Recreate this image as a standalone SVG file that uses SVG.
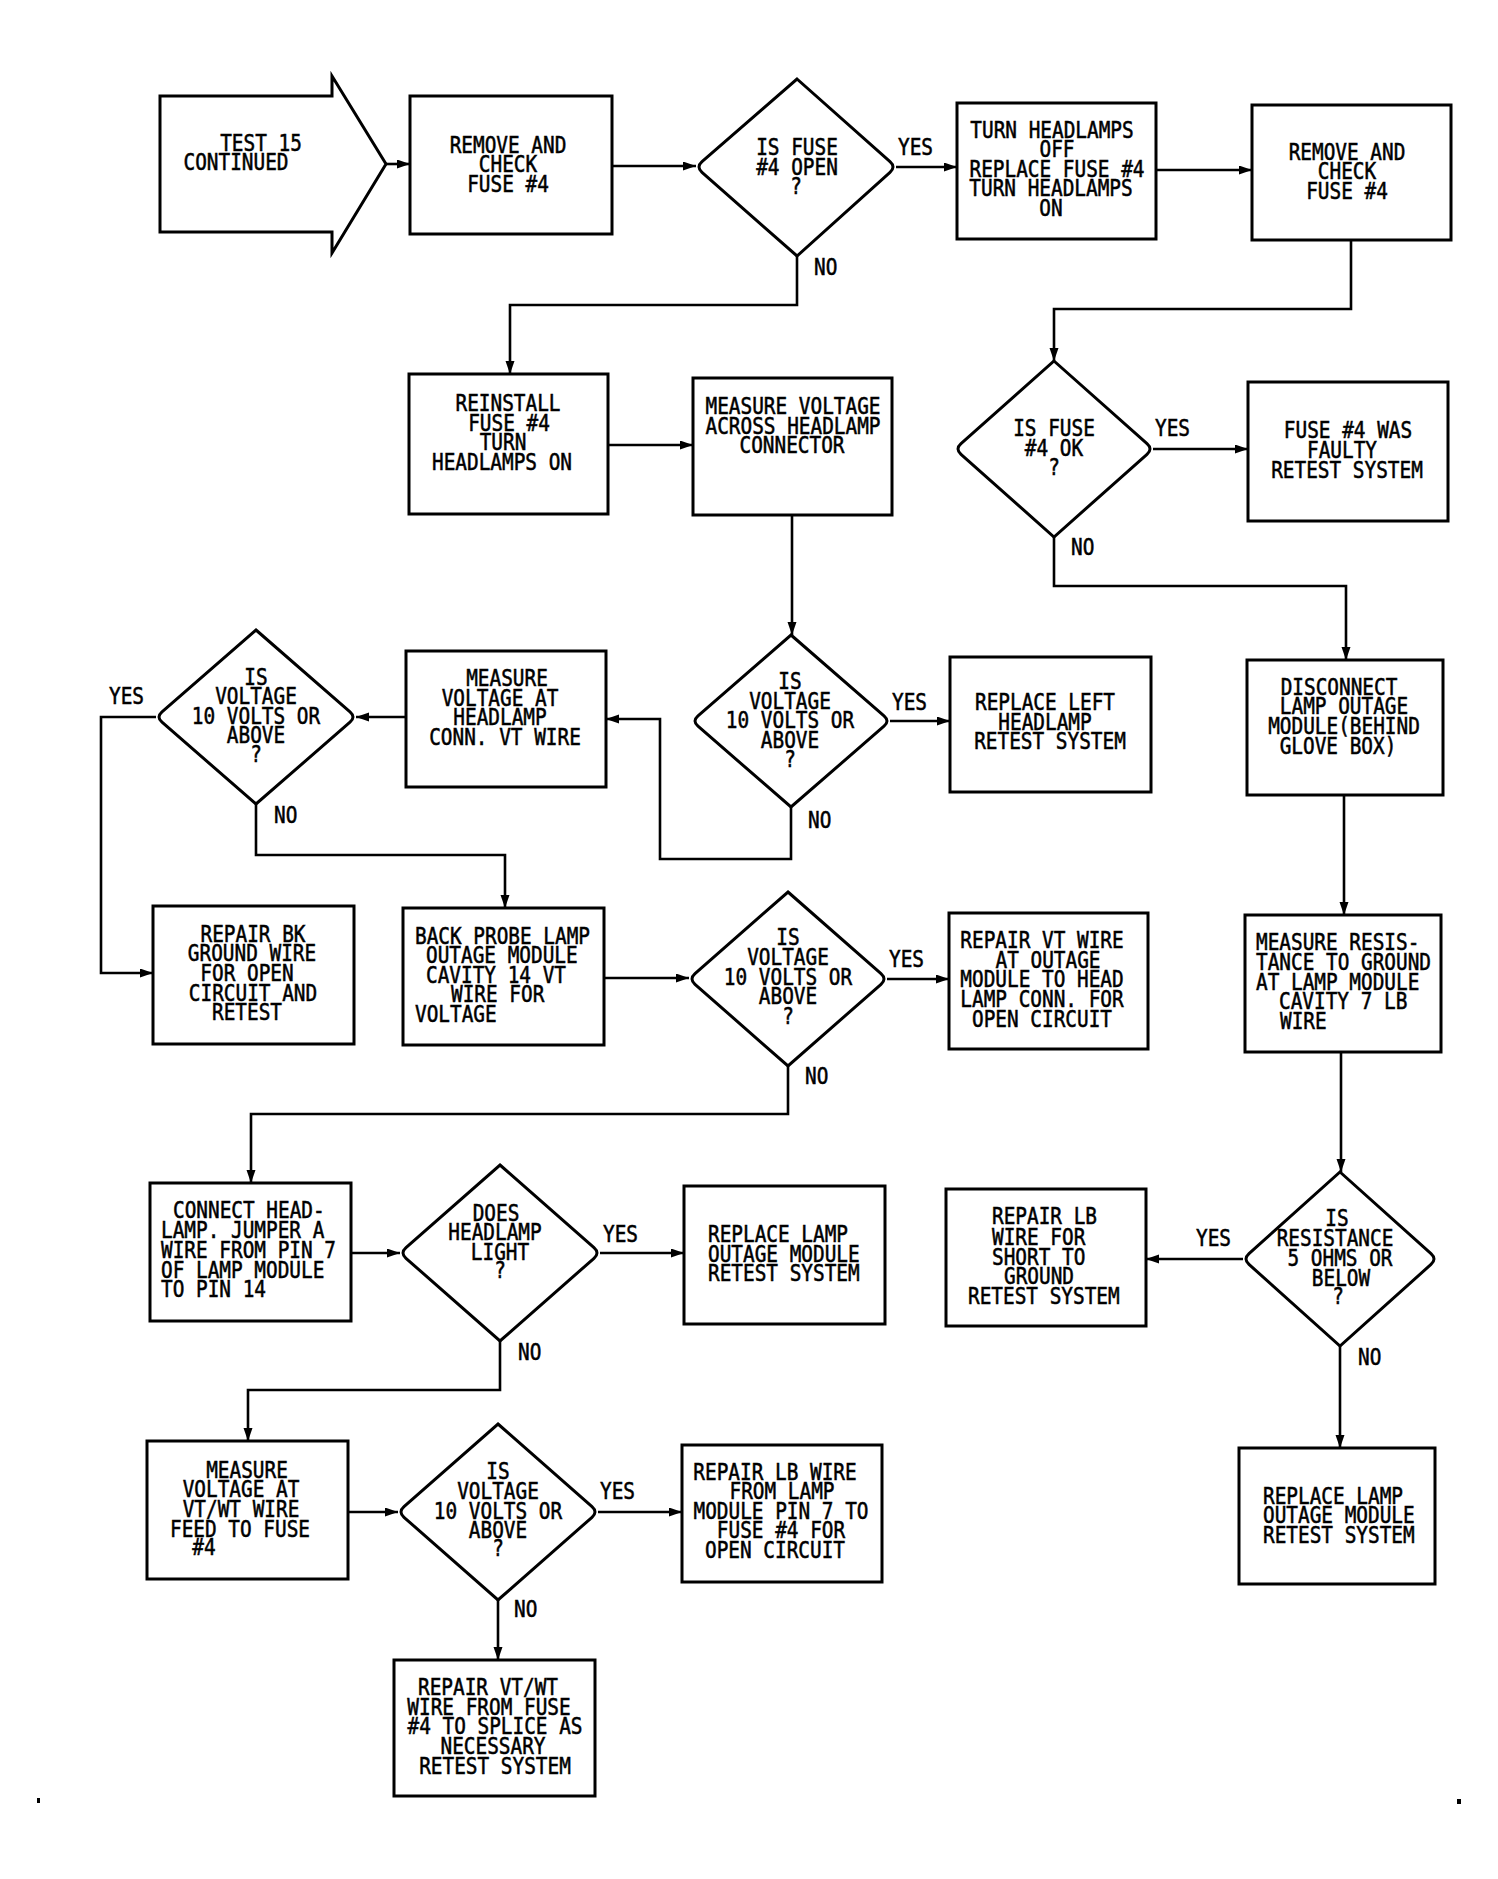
<svg xmlns="http://www.w3.org/2000/svg" width="1498" height="1879" viewBox="0 0 1498 1879">
<defs>
<style>
.n{fill:#fff;stroke:#000;stroke-width:3}
.c{fill:none;stroke:#000;stroke-width:2.6}
text{font-family:"DejaVu Sans Mono","Liberation Mono",monospace;font-size:19.4px;fill:#000;stroke:#000;stroke-width:0.45}
.m{text-anchor:middle}
</style>
<marker id="a" markerUnits="userSpaceOnUse" markerWidth="14" markerHeight="10" refX="13" refY="4.5" orient="auto">
<path d="M0,0 L13,4.5 L0,9 Z" fill="#000"/>
</marker>
</defs>
<rect width="1498" height="1879" fill="#fff"/>
<g id="connectors">
<path class="c" d="M386,164 H410" marker-end="url(#a)"/>
<path class="c" d="M612,166 H696" marker-end="url(#a)"/>
<path class="c" d="M896,167 H957" marker-end="url(#a)"/>
<path class="c" d="M1156,170 H1252" marker-end="url(#a)"/>
<path class="c" d="M797,256 V305 H510 V374" marker-end="url(#a)"/>
<path class="c" d="M1351,240 V309 H1054 V361" marker-end="url(#a)"/>
<path class="c" d="M1153,449 H1248" marker-end="url(#a)"/>
<path class="c" d="M608,445 H693" marker-end="url(#a)"/>
<path class="c" d="M1054,537 V586 H1346 V660" marker-end="url(#a)"/>
<path class="c" d="M792,515 V635" marker-end="url(#a)"/>
<path class="c" d="M890,721 H950" marker-end="url(#a)"/>
<path class="c" d="M791,807 V859 H660 V719 H606" marker-end="url(#a)"/>
<path class="c" d="M406,717 H356" marker-end="url(#a)"/>
<path class="c" d="M156,717 H101 V973 H153" marker-end="url(#a)"/>
<path class="c" d="M256,804 V855 H505 V908" marker-end="url(#a)"/>
<path class="c" d="M604,978 H689" marker-end="url(#a)"/>
<path class="c" d="M887,979 H949" marker-end="url(#a)"/>
<path class="c" d="M1344,795 V915" marker-end="url(#a)"/>
<path class="c" d="M1341,1052 V1172" marker-end="url(#a)"/>
<path class="c" d="M788,1066 V1114 H251 V1183" marker-end="url(#a)"/>
<path class="c" d="M1243,1259 H1146" marker-end="url(#a)"/>
<path class="c" d="M1340,1346 V1448" marker-end="url(#a)"/>
<path class="c" d="M351,1253 H400" marker-end="url(#a)"/>
<path class="c" d="M600,1253 H684" marker-end="url(#a)"/>
<path class="c" d="M500,1341 V1390 H248 V1441" marker-end="url(#a)"/>
<path class="c" d="M348,1512 H398" marker-end="url(#a)"/>
<path class="c" d="M598,1512 H682" marker-end="url(#a)"/>
<path class="c" d="M498,1600 V1660" marker-end="url(#a)"/>
</g>
<g id="labels">
<g transform="scale(1,1.2)">
<text x="898" y="129.2">YES</text>
<text x="814" y="229.2">NO</text>
<text x="1155" y="363.3">YES</text>
<text x="1071" y="462.5">NO</text>
<text x="109" y="586.7">YES</text>
<text x="274" y="685.8">NO</text>
<text x="892" y="591.7">YES</text>
<text x="808" y="690">NO</text>
<text x="889" y="805.8">YES</text>
<text x="805" y="903.3">NO</text>
<text x="603" y="1035">YES</text>
<text x="518" y="1133.3">NO</text>
<text x="1196" y="1038.3">YES</text>
<text x="1358" y="1137.5">NO</text>
<text x="600" y="1249.2">YES</text>
<text x="514" y="1347.5">NO</text>
</g>
</g>
<g id="start">
<path class="n" d="M160,96 H332 V76 L386,164 L332,253 V232 H160 Z"/>
<g transform="scale(1,1.2)">
<text class="m"><tspan x="261" y="125.8">TEST 15</tspan><tspan x="236" y="141.7">CONTINUED</tspan></text>
</g>
</g>
<g id="remove1">
<rect class="n" x="410" y="96" width="202" height="138"/>
<g transform="scale(1,1.2)">
<text class="m"><tspan x="508" y="127.5">REMOVE AND</tspan><tspan x="508" y="143.3">CHECK</tspan><tspan x="508" y="160">FUSE #4</tspan></text>
</g>
</g>
<g id="d1">
<path class="n" d="M797,79 L890,161.7 Q896,167 890,172.3 L797,256 L702,172.3 Q696,167 702,161.7 Z"/>
<g transform="scale(1,1.2)">
<text class="m"><tspan x="797" y="129.2">IS FUSE</tspan><tspan x="797" y="145.8">#4 OPEN</tspan><tspan x="796" y="161.7">?</tspan></text>
</g>
</g>
<g id="turn">
<rect class="n" x="957" y="103" width="199" height="136"/>
<g transform="scale(1,1.2)">
<text class="m"><tspan x="1052" y="115">TURN HEADLAMPS</tspan><tspan x="1057" y="130.8">OFF</tspan><tspan x="1057" y="147.5">REPLACE FUSE #4</tspan><tspan x="1051" y="163.3">TURN HEADLAMPS</tspan><tspan x="1051" y="180">ON</tspan></text>
</g>
</g>
<g id="remove2">
<rect class="n" x="1252" y="105" width="199" height="135"/>
<g transform="scale(1,1.2)">
<text class="m"><tspan x="1347" y="133.3">REMOVE AND</tspan><tspan x="1347" y="149.2">CHECK</tspan><tspan x="1347" y="165.8">FUSE #4</tspan></text>
</g>
</g>
<g id="d2">
<path class="n" d="M1054,361 L1147,443.7 Q1153,449 1147,454.3 L1054,537 L961,454.3 Q955,449 961,443.7 Z"/>
<g transform="scale(1,1.2)">
<text class="m"><tspan x="1054" y="363.3">IS FUSE</tspan><tspan x="1054" y="380">#4 OK</tspan><tspan x="1054" y="395.8">?</tspan></text>
</g>
</g>
<g id="fuse">
<rect class="n" x="1248" y="382" width="200" height="139"/>
<g transform="scale(1,1.2)">
<text class="m"><tspan x="1348" y="365">FUSE #4 WAS</tspan><tspan x="1342" y="381.7">FAULTY</tspan><tspan x="1347" y="398.3">RETEST SYSTEM</tspan></text>
</g>
</g>
<g id="reinstall">
<rect class="n" x="409" y="374" width="199" height="140"/>
<g transform="scale(1,1.2)">
<text class="m"><tspan x="508" y="342.5">REINSTALL</tspan><tspan x="509" y="359.2">FUSE #4</tspan><tspan x="503" y="375">TURN</tspan><tspan x="502" y="391.7">HEADLAMPS ON</tspan></text>
</g>
</g>
<g id="measure-across">
<rect class="n" x="693" y="378" width="199" height="137"/>
<g transform="scale(1,1.2)">
<text class="m"><tspan x="793" y="345">MEASURE VOLTAGE</tspan><tspan x="793" y="361.7">ACROSS HEADLAMP</tspan><tspan x="792" y="377.5">CONNECTOR</tspan></text>
</g>
</g>
<g id="d3">
<path class="n" d="M256,630 L350,711.8 Q356,717 350,722.2 L256,804 L162,722.2 Q156,717 162,711.8 Z"/>
<g transform="scale(1,1.2)">
<text class="m"><tspan x="256" y="570.8">IS</tspan><tspan x="256" y="586.7">VOLTAGE</tspan><tspan x="256" y="603.3">10 VOLTS OR</tspan><tspan x="256" y="619.2">ABOVE</tspan><tspan x="256" y="635">?</tspan></text>
</g>
</g>
<g id="measure-vt">
<rect class="n" x="406" y="651" width="200" height="136"/>
<g transform="scale(1,1.2)">
<text class="m"><tspan x="507" y="571.7">MEASURE</tspan><tspan x="500" y="588.3">VOLTAGE AT</tspan><tspan x="500" y="604.2">HEADLAMP</tspan><tspan x="505" y="620.8">CONN. VT WIRE</tspan></text>
</g>
</g>
<g id="d4">
<path class="n" d="M791,635 L884,715.8 Q890,721 884,726.2 L791,807 L698,726.2 Q692,721 698,715.8 Z"/>
<g transform="scale(1,1.2)">
<text class="m"><tspan x="790" y="574.2">IS</tspan><tspan x="790" y="590.8">VOLTAGE</tspan><tspan x="790" y="606.7">10 VOLTS OR</tspan><tspan x="790" y="623.3">ABOVE</tspan><tspan x="790" y="639.2">?</tspan></text>
</g>
</g>
<g id="replace-left">
<rect class="n" x="950" y="657" width="201" height="135"/>
<g transform="scale(1,1.2)">
<text class="m"><tspan x="1045" y="591.7">REPLACE LEFT</tspan><tspan x="1045" y="608.3">HEADLAMP</tspan><tspan x="1050" y="624.2">RETEST SYSTEM</tspan></text>
</g>
</g>
<g id="disconnect">
<rect class="n" x="1247" y="660" width="196" height="135"/>
<g transform="scale(1,1.2)">
<text class="m"><tspan x="1339" y="579.2">DISCONNECT</tspan><tspan x="1344" y="595">LAMP OUTAGE</tspan><tspan x="1344" y="611.7">MODULE(BEHIND</tspan><tspan x="1338" y="628.3">GLOVE BOX)</tspan></text>
</g>
</g>
<g id="repair-bk">
<rect class="n" x="153" y="906" width="201" height="138"/>
<g transform="scale(1,1.2)">
<text class="m"><tspan x="253" y="785">REPAIR BK</tspan><tspan x="252" y="800.8">GROUND WIRE</tspan><tspan x="247" y="817.5">FOR OPEN</tspan><tspan x="253" y="834.2">CIRCUIT AND</tspan><tspan x="247" y="850">RETEST</tspan></text>
</g>
</g>
<g id="back-probe">
<rect class="n" x="403" y="908" width="201" height="137"/>
<g transform="scale(1,1.2)">
<text><tspan x="415" y="786.7">BACK PROBE LAMP</tspan><tspan x="426" y="802.5">OUTAGE MODULE</tspan><tspan x="426" y="819.2">CAVITY 14 VT</tspan><tspan x="451" y="835">WIRE FOR</tspan><tspan x="415" y="851.7">VOLTAGE</tspan></text>
</g>
</g>
<g id="d5">
<path class="n" d="M788,892 L881,973.7 Q887,979 881,984.3 L788,1066 L695,984.3 Q689,979 695,973.7 Z"/>
<g transform="scale(1,1.2)">
<text class="m"><tspan x="788" y="787.5">IS</tspan><tspan x="788" y="804.2">VOLTAGE</tspan><tspan x="788" y="820.8">10 VOLTS OR</tspan><tspan x="788" y="836.7">ABOVE</tspan><tspan x="788" y="853.3">?</tspan></text>
</g>
</g>
<g id="repair-vt">
<rect class="n" x="949" y="913" width="199" height="136"/>
<g transform="scale(1,1.2)">
<text class="m"><tspan x="1042" y="790">REPAIR VT WIRE</tspan><tspan x="1048" y="806.7">AT OUTAGE</tspan><tspan x="1042" y="822.5">MODULE TO HEAD</tspan><tspan x="1042" y="839.2">LAMP CONN. FOR</tspan><tspan x="1042" y="855.8">OPEN CIRCUIT</tspan></text>
</g>
</g>
<g id="measure-res">
<rect class="n" x="1245" y="915" width="196" height="137"/>
<g transform="scale(1,1.2)">
<text><tspan x="1256" y="791.7">MEASURE RESIS-</tspan><tspan x="1256" y="808.3">TANCE TO GROUND</tspan><tspan x="1256" y="825">AT LAMP MODULE</tspan><tspan x="1279" y="840.8">CAVITY 7 LB</tspan><tspan x="1280" y="857.5">WIRE</tspan></text>
</g>
</g>
<g id="connect">
<rect class="n" x="150" y="1183" width="201" height="138"/>
<g transform="scale(1,1.2)">
<text><tspan x="173" y="1015">CONNECT HEAD-</tspan><tspan x="161" y="1031.7">LAMP. JUMPER A</tspan><tspan x="161" y="1048.3">WIRE FROM PIN 7</tspan><tspan x="161" y="1065">OF LAMP MODULE</tspan><tspan x="161" y="1080.8">TO PIN 14</tspan></text>
</g>
</g>
<g id="d6">
<path class="n" d="M500,1165 L594,1247.7 Q600,1253 594,1258.3 L500,1341 L406,1258.3 Q400,1253 406,1247.7 Z"/>
<g transform="scale(1,1.2)">
<text class="m"><tspan x="496" y="1017.5">DOES</tspan><tspan x="495" y="1033.3">HEADLAMP</tspan><tspan x="500" y="1050">LIGHT</tspan><tspan x="500" y="1065">?</tspan></text>
</g>
</g>
<g id="replace-lamp">
<rect class="n" x="684" y="1186" width="201" height="138"/>
<g transform="scale(1,1.2)">
<text><tspan x="708" y="1035">REPLACE LAMP</tspan><tspan x="708" y="1051.7">OUTAGE MODULE</tspan><tspan x="708" y="1067.5">RETEST SYSTEM</tspan></text>
</g>
</g>
<g id="repair-lb-short">
<rect class="n" x="946" y="1189" width="200" height="137"/>
<g transform="scale(1,1.2)">
<text><tspan x="992" y="1020">REPAIR LB</tspan><tspan x="992" y="1037.5">WIRE FOR</tspan><tspan x="992" y="1054.2">SHORT TO</tspan><tspan x="1004" y="1070">GROUND</tspan><tspan x="968" y="1086.7">RETEST SYSTEM</tspan></text>
</g>
</g>
<g id="d8">
<path class="n" d="M1340,1172 L1431,1253.6 Q1437,1259 1431,1264.4 L1340,1346 L1249,1264.4 Q1243,1259 1249,1253.6 Z"/>
<g transform="scale(1,1.2)">
<text class="m"><tspan x="1337" y="1021.7">IS</tspan><tspan x="1335" y="1038.3">RESISTANCE</tspan><tspan x="1340" y="1055">5 OHMS OR</tspan><tspan x="1341" y="1071.7">BELOW</tspan><tspan x="1338" y="1086.7">?</tspan></text>
</g>
</g>
<g id="measure-vtwt">
<rect class="n" x="147" y="1441" width="201" height="138"/>
<g transform="scale(1,1.2)">
<text class="m"><tspan x="247" y="1231.7">MEASURE</tspan><tspan x="241" y="1247.5">VOLTAGE AT</tspan><tspan x="241" y="1264.2">VT/WT WIRE</tspan><tspan x="240" y="1280.8">FEED TO FUSE</tspan><tspan x="204" y="1295.8">#4</tspan></text>
</g>
</g>
<g id="d7">
<path class="n" d="M498,1424 L592,1506.7 Q598,1512 592,1517.3 L498,1600 L404,1517.3 Q398,1512 404,1506.7 Z"/>
<g transform="scale(1,1.2)">
<text class="m"><tspan x="498" y="1232.5">IS</tspan><tspan x="498" y="1249.2">VOLTAGE</tspan><tspan x="498" y="1265.8">10 VOLTS OR</tspan><tspan x="498" y="1281.7">ABOVE</tspan><tspan x="498" y="1296.7">?</tspan></text>
</g>
</g>
<g id="repair-lb-from">
<rect class="n" x="682" y="1445" width="200" height="137"/>
<g transform="scale(1,1.2)">
<text class="m"><tspan x="775" y="1233.3">REPAIR LB WIRE</tspan><tspan x="782" y="1249.2">FROM LAMP</tspan><tspan x="781" y="1265.8">MODULE PIN 7 TO</tspan><tspan x="781" y="1281.7">FUSE #4 FOR</tspan><tspan x="775" y="1298.3">OPEN CIRCUIT</tspan></text>
</g>
</g>
<g id="replace-lamp2">
<rect class="n" x="1239" y="1448" width="196" height="136"/>
<g transform="scale(1,1.2)">
<text><tspan x="1263" y="1253.3">REPLACE LAMP</tspan><tspan x="1263" y="1269.2">OUTAGE MODULE</tspan><tspan x="1263" y="1285.8">RETEST SYSTEM</tspan></text>
</g>
</g>
<g id="repair-vtwt">
<rect class="n" x="394" y="1660" width="201" height="136"/>
<g transform="scale(1,1.2)">
<text class="m"><tspan x="488" y="1412.5">REPAIR VT/WT</tspan><tspan x="489" y="1429.2">WIRE FROM FUSE</tspan><tspan x="495" y="1445">#4 TO SPLICE AS</tspan><tspan x="493" y="1461.7">NECESSARY</tspan><tspan x="495" y="1478.3">RETEST SYSTEM</tspan></text>
</g>
</g>
<g id="marks">
<rect x="37" y="1798" width="3" height="5" fill="#000"/>
<rect x="1457" y="1799" width="4" height="5" fill="#000"/>
</g>
</svg>
